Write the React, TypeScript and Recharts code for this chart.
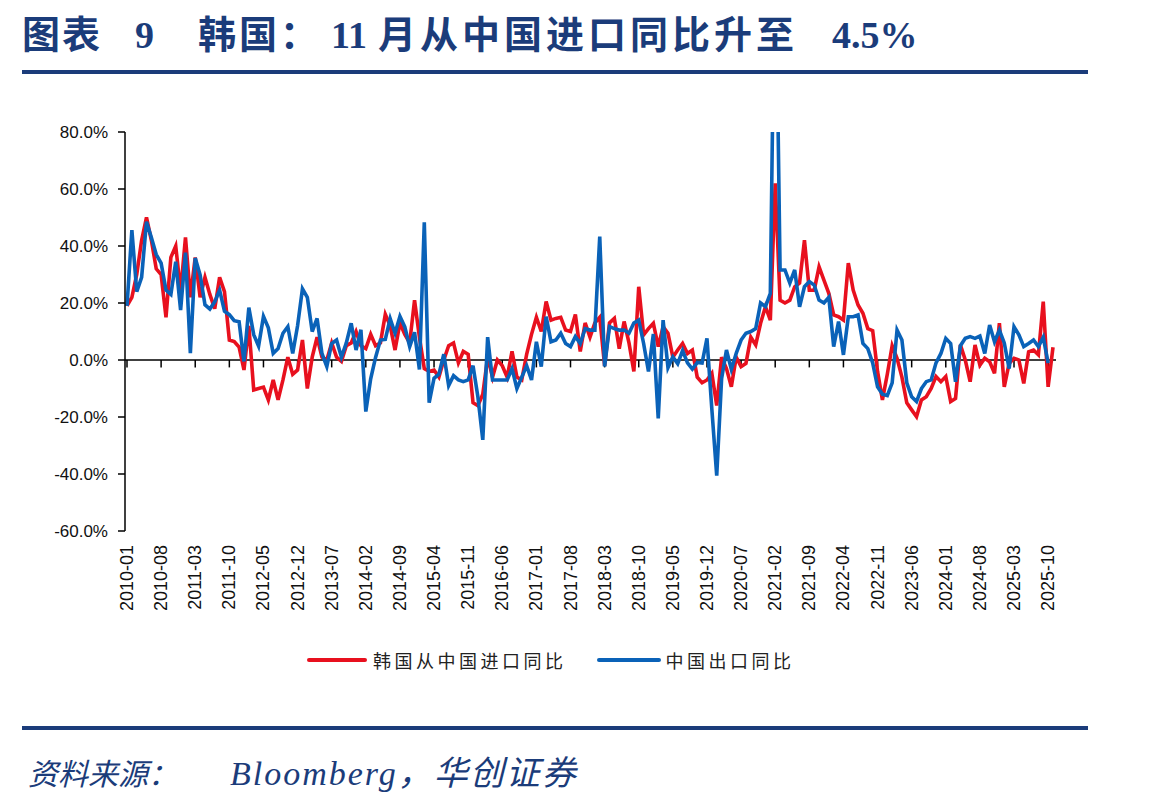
import React from "react";
import {
  LineChart,
  Line,
  XAxis,
  YAxis,
  ReferenceLine,
} from "recharts";

// monthly labels 2010-01 .. 2025-11
const months: string[] = [];
for (let y = 2010; y <= 2025; y++) {
  for (let m = 1; m <= 12; m++) {
    if (y === 2025 && m > 11) break;
    months.push(`${y}-${String(m).padStart(2, "0")}`);
  }
}

// 韩国从中国进口同比 (%)
const koreaImports: number[] = [
  19, 22, 30, 42, 50, 42, 32, 30, 15, 36, 40, 24,
  43, 22, 36, 22, 29, 23, 18, 29, 24, 7, 6.5, 4.5,
  -3.5, 12, -10.5, -10, -9.5, -14, -7, -14, -7, 1, -5, -3.5,
  7, -10, 1, 8, 1, 0, 6, 1, -0.5, 5, 6, 10,
  5, 4, 9, 5, 6, 16, 12, 3.5, 13, 9, 6, 21,
  8, -3, -4, -3.5, -6, 0, 5, 6, -1, 3, 2, -15,
  -16, -12, 1, -6, 0, -2, -6, 3, -6, -7, 2, 9,
  15, 10, 20.5, 14, 14.6, 15, 10.5, 10, 16, 3, 13, 8,
  13, 15, -2, 13, 14.6, 4, 13.5, 6, -4, 25.7, 8.8, 11,
  12.9, 4.7, 11.7, 9.4, 1, 3.5, 5.8, 2.3, 3.5, -6, -8, -7,
  -4.7, -16, 1, -3, -9.4, 1, -2.3, -1.2, 8, 5.3, 12.9, 18.7,
  14, 62, 21, 20, 21, 25.7, 27, 42, 24.5, 24.5, 32.7, 28,
  23.4, 15.8, 15.2, 14, 34, 24.5, 19.3, 16.4, 11, 10.3, -4, -14,
  -5, 5, 0.6, -6, -15, -17.5, -19.9, -14, -12.9, -10, -5.8, -7.6,
  -5.8, -14.6, -13.5, 5.3, 0, -7.6, 5.3, -1.8, 0.6, -0.6, -4.7, 12.9,
  -9.4, -1.2, 0.6, 0, -8.2, 2.9, 3.5, 1.8, 20.5, -9.4, 4.5,
];

// 中国出口同比 (%)
const chinaExports: (number | null)[] = [
  19, 45.6, 24, 29, 48.5, 43, 37, 34, 24.5, 23, 34.5, 17.5,
  37.7, 2.4, 35.8, 29.9, 19.4, 17.9, 20.4, 24.5, 17.1, 15.9, 13.8, 13.4,
  -0.5, 18.4, 8.9, 4.9, 15.3, 11.3, 2.3, 4, 9.4, 11.7, 2.3, 12,
  25, 22, 10, 14.6, 2.3, -2.3, 5.8, 7, 1, 6, 12.9, 3.5,
  10.6, -18.1, -6.6, 0.9, 7, 7.2, 14.5, 9.4, 15.3, 11.6, 4.7, 9.7,
  -3.3, 48.3, -15, -6.4, -5, 2, -9, -5.5, -7, -7.6, -7, -2,
  -13, -28, 8, -7, -7, -7, -7, -3, -10, -6, -2, -7,
  6.4, -2.3, 15.2, 6.4, 7, 9.4, 5.8, 4.7, 8.2, 5.8, 11, 10.5,
  10.5, 43.3, -2.3, 11.7, 11, 10.5, 10.5, 9.4, 13, 14, 5.8, -4,
  9.1, -20.5, 14, -2.7, 1.1, -1.3, 3.3, -1, -3.2, -0.9, -1.1, 7.6,
  -17.2, -40.6, -6.6, 3.5, -3.3, 2.3, 7, 9.4, 10, 11, 20, 18.7,
  23.4, 155, 31.6, 31.6, 27, 31.6, 18.7, 25.7, 27.5, 26.3, 21, 20,
  22, 4.7, 13.5, 1.8, 15.2, 15.2, 15.8, 5.8, 4, -1, -9.4, -12,
  -12.5, -8, 10.5, 7, -8, -12.9, -14.6, -10, -7.6, -7, -1, 2.3,
  7.6, 5.8, -7.6, 5, 7.6, 8.2, 7.6, 8.4, 2.3, 12.3, 6.4, 10.5,
  6, -3, 11.7, 8.8, 4.7, 5.8, 7, 4.7, 8, -1.1, null,
];

const yTicks = [-60, -40, -20, 0, 20, 40, 60, 80];

const RED = "#e8101e";
const BLUE = "#0a62b8";
const NAVY = "#1b3c7a";

const data = months.map((m, i) => ({
  month: m,
  korea: koreaImports[i],
  china: chinaExports[i],
}));

// months that get a label (every 7th)
const labelled = months.filter((_, i) => i % 7 === 0);

const MonthTick = (props: any) => {
  const { x, y, payload } = props;
  return (
    <text
      x={x}
      y={y}
      transform={`rotate(-90, ${x}, ${y})`}
      textAnchor="end"
      dominantBaseline="central"
      fontSize={18}
      fontFamily="'Liberation Sans', Arial, sans-serif"
      fill="#111"
    >
      {payload.value}
    </text>
  );
};

export default function App() {
  return (
    <div
      style={{
        position: "absolute",
        left: 0,
        top: 0,
        width: 1149,
        height: 804,
        background: "#fff",
        fontFamily: "'Liberation Serif', 'Noto Sans CJK SC', serif",
        overflow: "hidden",
      }}
    >
      <div
        style={{
          position: "absolute",
          left: 22,
          top: 4,
          fontSize: 38,
          fontWeight: 700,
          color: NAVY,
          whiteSpace: "pre",
        }}
      >
        <span style={{ letterSpacing: 2 }}>图表</span>
        <span style={{ marginLeft: 33 }}>9</span>
        <span style={{ marginLeft: 44, letterSpacing: 3 }}>韩国：</span>
        <span style={{ marginLeft: 10 }}>11</span>
        <span style={{ marginLeft: 11, letterSpacing: 4 }}>月从中国进口同比升至</span>
        <span style={{ marginLeft: 34 }}>4.5%</span>
      </div>
      <div
        style={{ position: "absolute", left: 22, top: 70, width: 1066, height: 4, background: NAVY }}
      />

      <div style={{ position: "absolute", left: 0, top: 0 }}>
        <LineChart
          width={1149}
          height={700}
          data={data}
          margin={{ top: 132, right: 93, bottom: 89, left: 0 }}
        >
          <XAxis
            dataKey="month"
            interval={6}
            axisLine={false}
            tickLine={false}
            tickSize={0}
            tickMargin={14}
            height={80}
            padding={{ left: 2, right: 3 }}
            tick={<MonthTick />}
          />
          <YAxis
            width={125}
            domain={[-60, 80]}
            ticks={yTicks}
            allowDataOverflow
            tickFormatter={(v: number) => `${v.toFixed(1)}%`}
            axisLine={{ stroke: "#000", strokeWidth: 1.5 }}
            tickLine={{ stroke: "#000", strokeWidth: 1.5 }}
            tickSize={7}
            tickMargin={10}
            tick={{ fill: "#111", fontSize: 17, fontFamily: "'Liberation Sans', Arial, sans-serif" }}
          />
          <ReferenceLine y={0} stroke="#000" strokeWidth={1.5} />
          {labelled.map((m) => (
            <ReferenceLine
              key={m}
              segment={[
                { x: m, y: 0 },
                { x: m, y: -2.6 },
              ]}
              stroke="#000"
              strokeWidth={1.5}
            />
          ))}
          <Line
            type="linear"
            dataKey="korea"
            stroke={RED}
            strokeWidth={3.6}
            dot={false}
            isAnimationActive={false}
          />
          <Line
            type="linear"
            dataKey="china"
            stroke={BLUE}
            strokeWidth={3.6}
            dot={false}
            isAnimationActive={false}
          />
        </LineChart>
      </div>

      {/* legend */}
      <div
        style={{
          position: "absolute",
          left: 307,
          top: 645,
          display: "flex",
          alignItems: "center",
          fontFamily: "'Noto Sans CJK SC', sans-serif",
          fontSize: 18,
          letterSpacing: 3.5,
          color: "#222",
          height: 30,
        }}
      >
        <span style={{ display: "inline-block", width: 60, height: 4, background: RED, borderRadius: 2 }} />
        <span style={{ marginLeft: 6 }}>韩国从中国进口同比</span>
        <span
          style={{ display: "inline-block", width: 64, height: 4, background: BLUE, borderRadius: 2, marginLeft: 30 }}
        />
        <span style={{ marginLeft: 5 }}>中国出口同比</span>
      </div>

      <div
        style={{ position: "absolute", left: 22, top: 726, width: 1066, height: 4, background: NAVY }}
      />
      <div
        style={{
          position: "absolute",
          left: 28,
          top: 746,
          fontStyle: "italic",
          color: NAVY,
          whiteSpace: "pre",
        }}
      >
        <span style={{ fontSize: 30 }}>资料来源：</span>
        <span style={{ fontSize: 34, marginLeft: 52, letterSpacing: 2 }}>Bloomberg，华创证券</span>
      </div>
    </div>
  );
}
